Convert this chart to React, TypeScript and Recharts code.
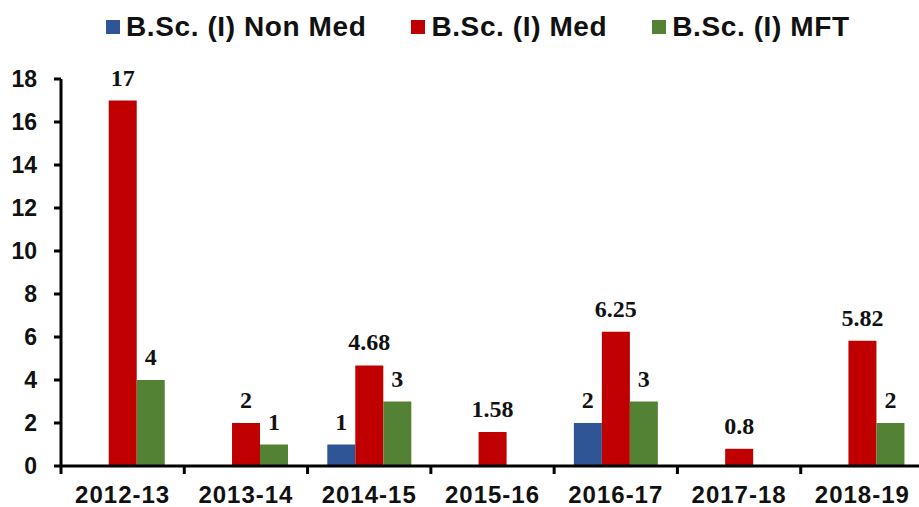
import { BarChart, Bar, XAxis, YAxis, Legend, LabelList } from "recharts";

const categories = ["2012-13", "2013-14", "2014-15", "2015-16", "2016-17", "2017-18", "2018-19"];
const nonMed: (number | null)[] = [null, null, 1, null, 2, null, null];
const med: (number | null)[] = [17, 2, 4.68, 1.58, 6.25, 0.8, 5.82];
const mft: (number | null)[] = [4, 1, 3, null, 3, null, 2];
const yTicks = [0, 2, 4, 6, 8, 10, 12, 14, 16, 18];

const SERIES = [
  { key: "nonMed", name: "B.Sc. (I) Non Med", color: "#2F5597" },
  { key: "med", name: "B.Sc. (I) Med", color: "#C00000" },
  { key: "mft", name: "B.Sc. (I) MFT", color: "#548235" },
];

const data = categories.map((year, i) => ({
  year,
  nonMed: nonMed[i],
  med: med[i],
  mft: mft[i],
}));

const SANS = "'Liberation Sans', Arial, sans-serif";
const SERIF = "'Liberation Serif', 'Times New Roman', serif";

const XTick = (props: any) => {
  const { x, y, payload } = props;
  const half = payload?.offset ?? 61.6;
  return (
    <g>
      <line x1={x - half} x2={x - half} y1={y} y2={y + 8} stroke="#000" strokeWidth={3} />
      <text
        x={x}
        y={y + 37}
        textAnchor="middle"
        fontFamily={SANS}
        fontWeight="bold"
        fontSize={24}
        letterSpacing={1}
        fill="#111"
      >
        {payload.value}
      </text>
    </g>
  );
};

const LegendBox = () => (
  <div style={{ height: 40, display: "flex", paddingLeft: 106, paddingTop: 14, alignItems: "center", boxSizing: "border-box" }}>
    {SERIES.map((s) => (
      <div key={s.key} style={{ display: "flex", alignItems: "center", marginRight: 45 }}>
        <span style={{ width: 14, height: 14, background: s.color, display: "inline-block", marginRight: 6 }} />
        <span style={{ fontFamily: SANS, fontWeight: "bold", fontSize: 28, letterSpacing: 0.6, color: "#111", lineHeight: "26px" }}>
          {s.name}
        </span>
      </div>
    ))}
  </div>
);

const fmt = (v: any) => (v == null ? "" : v);

export default function App() {
  return (
    <div style={{ position: "fixed", left: 0, top: 0, width: 919, height: 507, overflow: "hidden", background: "#fff" }}>
      <BarChart
        width={930}
        height={507}
        data={data}
        margin={{ top: 39, right: 6, left: 0, bottom: 0 }}
        barCategoryGap="16%"
        barGap={0}
      >
        <Legend verticalAlign="top" align="left" content={<LegendBox />} wrapperStyle={{ top: 0, left: 0 }} />
        <XAxis
          dataKey="year"
          height={41}
          tickLine={false}
          tickSize={0}
          tickMargin={0}
          axisLine={{ stroke: "#000", strokeWidth: 3 }}
          tick={<XTick />}
          interval={0}
        />
        <YAxis
          width={61}
          domain={[0, 18]}
          ticks={yTicks}
          interval={0}
          tickSize={7}
          tickMargin={17}
          axisLine={{ stroke: "#000", strokeWidth: 3 }}
          tickLine={{ stroke: "#000", strokeWidth: 3 }}
          tick={{ fontFamily: SANS, fontWeight: "bold", fontSize: 23, fill: "#111" }}
        />
        {SERIES.map((s) => (
          <Bar key={s.key} dataKey={s.key} name={s.name} fill={s.color} isAnimationActive={false}>
            <LabelList
              dataKey={s.key}
              position="top"
              offset={15}
              formatter={fmt}
              style={{ fontFamily: SERIF, fontWeight: "bold", fontSize: 24, fill: "#111" }}
            />
          </Bar>
        ))}
      </BarChart>
    </div>
  );
}
